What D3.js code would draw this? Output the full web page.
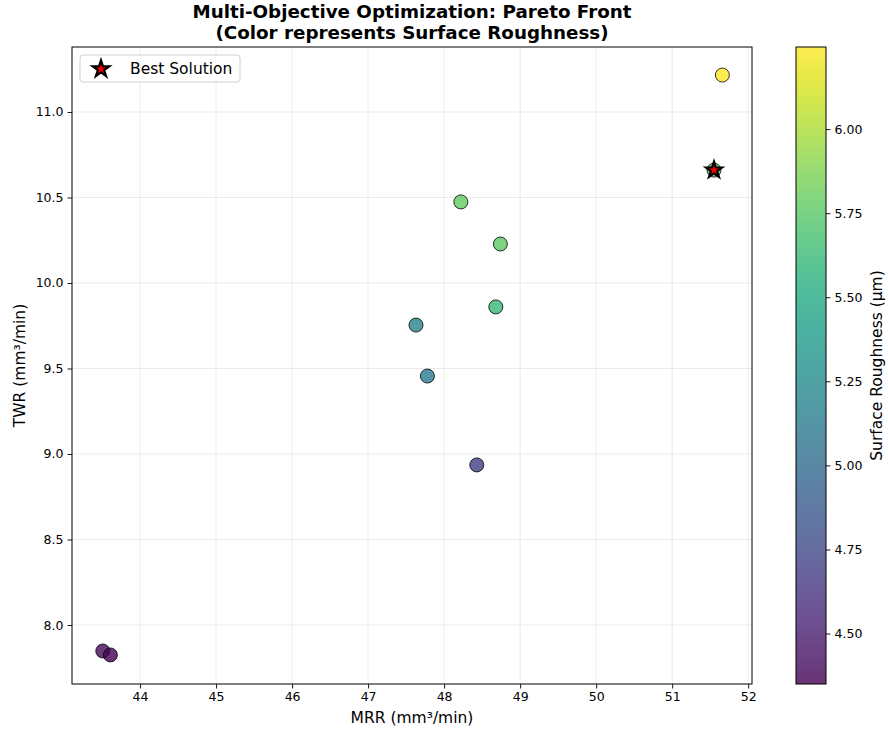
<!DOCTYPE html>
<html>
<head>
<meta charset="utf-8">
<script src="https://cdn.jsdelivr.net/npm/d3@7"></script>
<style>
body { margin:0; background:#fff; }
svg text { font-family: "DejaVu Sans", sans-serif; }
</style>
</head>
<body>
<svg id="chart"></svg>
<script>
// pareto points
var mrr = [51.66, 51.55, 48.22, 48.74, 48.68, 47.63, 47.78, 48.43, 43.51, 43.61];
var twr = [11.216, 10.66, 10.474, 10.228, 9.86, 9.754, 9.456, 8.936, 7.848, 7.825];
var roughness = [6.244, 5.76, 5.78, 5.77, 5.62, 5.20, 5.14, 4.70, 4.38, 4.35];
var bestIndex = 1;

var xTicks = [44, 45, 46, 47, 48, 49, 50, 51, 52];
var yTicks = [8.0, 8.5, 9.0, 9.5, 10.0, 10.5, 11.0];
var cTicks = [4.50, 4.75, 5.00, 5.25, 5.50, 5.75, 6.00];

var screen = {width:888, height:731};
var plot = {left:72, right:752, top:47, bottom:684};
var bar = {left:796, right:826};

var svg = d3.select("#chart")
    .attr("width", screen.width)
    .attr("height", screen.height);

var xScale = d3.scaleLinear().domain([43.105, 52.05]).range([plot.left, plot.right]);
var yScale = d3.scaleLinear().domain([7.655, 11.38]).range([plot.bottom, plot.top]);
var cExtent = d3.extent(roughness);
var cNorm = d3.scaleLinear().domain(cExtent).range([0, 1]);
var colour = function(v) { return d3.interpolateViridis(cNorm(v)); };

// grid
var grid = svg.append("g").attr("stroke", "#b0b0b0").attr("stroke-opacity", 0.3).attr("stroke-width", 0.8);
xTicks.forEach(function(t) {
    grid.append("line").attr("x1", xScale(t)).attr("x2", xScale(t))
        .attr("y1", plot.top).attr("y2", plot.bottom);
});
yTicks.forEach(function(t) {
    grid.append("line").attr("y1", yScale(t)).attr("y2", yScale(t))
        .attr("x1", plot.left).attr("x2", plot.right);
});

// axes
var xAxis = d3.axisBottom(xScale).tickValues(xTicks).tickSize(4.5).tickPadding(4).tickFormat(d3.format("d"));
var yAxis = d3.axisLeft(yScale).tickValues(yTicks).tickSize(4.5).tickPadding(4).tickFormat(d3.format(".1f"));

var gx = svg.append("g").attr("transform", "translate(0," + plot.bottom + ")").call(xAxis);
var gy = svg.append("g").attr("transform", "translate(" + plot.left + ",0)").call(yAxis);
[gx, gy].forEach(function(g) {
    g.select(".domain").remove();
    g.selectAll("text").attr("font-size", 12.5).attr("fill", "#000").style("font-family", "DejaVu Sans");
    g.selectAll("line").attr("stroke", "#000").attr("stroke-width", 0.9);
});

// points
var idx = d3.range(mrr.length);
svg.append("g").selectAll("circle")
    .data(idx)
    .enter()
    .append("circle")
    .attr("cx", function(i) { return xScale(mrr[i]); })
    .attr("cy", function(i) { return yScale(twr[i]); })
    .attr("r", 7)
    .attr("fill", function(i) { return colour(roughness[i]); })
    .attr("fill-opacity", 0.8)
    .attr("stroke", "#000")
    .attr("stroke-opacity", 0.8)
    .attr("stroke-width", 1);

// best solution star
var star = d3.symbol().type(d3.symbolStar).size(80);
svg.append("path")
    .attr("d", star())
    .attr("transform", "translate(" + xScale(mrr[bestIndex]) + "," + yScale(twr[bestIndex]) + ")")
    .attr("fill", "red")
    .attr("stroke", "#000")
    .attr("stroke-width", 2.2)
    .attr("stroke-linejoin", "miter");

// frame
svg.append("rect")
    .attr("x", plot.left).attr("y", plot.top)
    .attr("width", plot.right - plot.left).attr("height", plot.bottom - plot.top)
    .attr("fill", "none").attr("stroke", "#000").attr("stroke-width", 1);

// legend
var legend = svg.append("g").attr("transform", "translate(80,55)");
legend.append("rect")
    .attr("width", 160).attr("height", 27).attr("rx", 3)
    .attr("fill", "#fff").attr("fill-opacity", 0.8)
    .attr("stroke", "#d0d0d0");
legend.append("path")
    .attr("d", d3.symbol().type(d3.symbolStar).size(85)())
    .attr("transform", "translate(21,14)")
    .attr("fill", "red").attr("stroke", "#000").attr("stroke-width", 2.2);
legend.append("text")
    .attr("x", 50).attr("y", 19)
    .attr("font-size", 15.5)
    .text("Best Solution");

// colour bar
var defs = svg.append("defs");
var grad = defs.append("linearGradient").attr("id", "viridis")
    .attr("x1", 0).attr("y1", 1).attr("x2", 0).attr("y2", 0);
d3.range(0, 1.0001, 0.05).forEach(function(t) {
    grad.append("stop").attr("offset", t).attr("stop-color", d3.interpolateViridis(t));
});
var cScale = d3.scaleLinear().domain(cExtent).range([plot.bottom, plot.top]);
svg.append("rect")
    .attr("x", bar.left).attr("y", plot.top)
    .attr("width", bar.right - bar.left).attr("height", plot.bottom - plot.top)
    .attr("fill", "url(#viridis)").attr("fill-opacity", 0.8);
svg.append("rect")
    .attr("x", bar.left).attr("y", plot.top)
    .attr("width", bar.right - bar.left).attr("height", plot.bottom - plot.top)
    .attr("fill", "none").attr("stroke", "#000").attr("stroke-width", 1);
var cAxis = d3.axisRight(cScale).tickValues(cTicks).tickSize(4.5).tickPadding(4).tickFormat(d3.format(".2f"));
var gc = svg.append("g").attr("transform", "translate(" + bar.right + ",0)").call(cAxis);
gc.select(".domain").remove();
gc.selectAll("text").attr("font-size", 12.5).attr("fill", "#000").style("font-family", "DejaVu Sans");
gc.selectAll("line").attr("stroke", "#000").attr("stroke-width", 0.9);

svg.append("text")
    .attr("transform", "translate(882," + ((plot.top + plot.bottom) / 2) + ") rotate(-90)")
    .attr("text-anchor", "middle")
    .attr("font-size", 15.5)
    .text("Surface Roughness (\u03bcm)");

// labels
svg.append("text")
    .attr("x", (plot.left + plot.right) / 2).attr("y", 723)
    .attr("text-anchor", "middle").attr("font-size", 15.5)
    .text("MRR (mm\u00b3/min)");
svg.append("text")
    .attr("transform", "translate(25," + ((plot.top + plot.bottom) / 2) + ") rotate(-90)")
    .attr("text-anchor", "middle").attr("font-size", 15.5)
    .text("TWR (mm\u00b3/min)");

// title
var title = svg.append("text").attr("text-anchor", "middle").attr("font-size", 18.3).attr("font-weight", "bold");
title.append("tspan").attr("x", (plot.left + plot.right) / 2).attr("y", 18).text("Multi-Objective Optimization: Pareto Front");
title.append("tspan").attr("x", (plot.left + plot.right) / 2).attr("y", 39).text("(Color represents Surface Roughness)");
</script>
</body>
</html>
